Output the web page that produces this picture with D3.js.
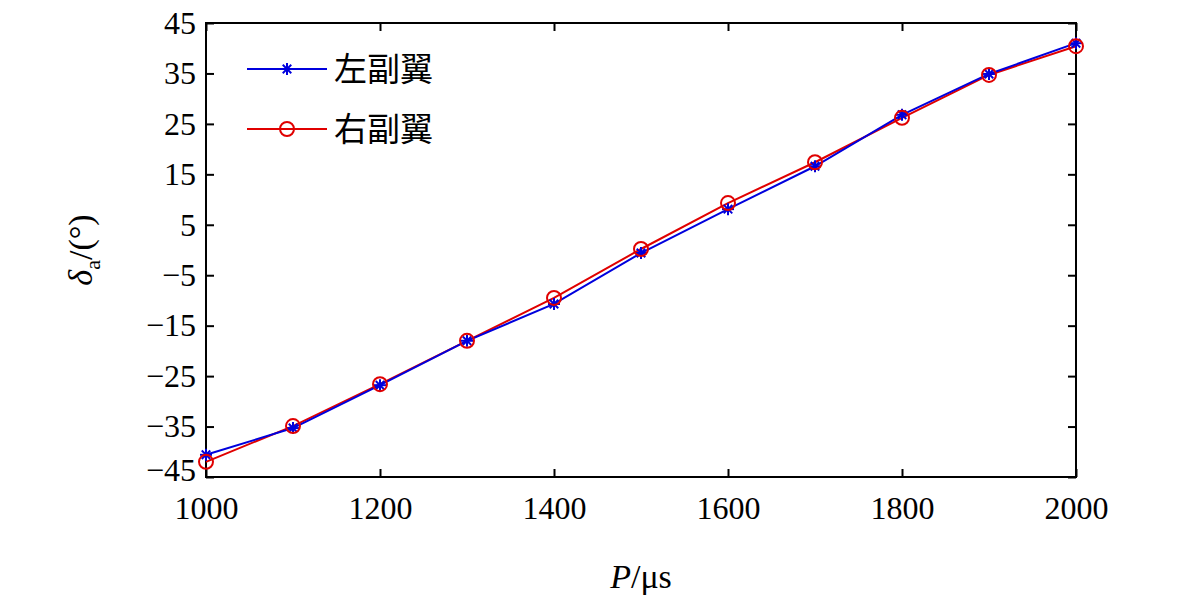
<!DOCTYPE html><html><head><meta charset="utf-8"><script src="https://cdn.jsdelivr.net/npm/d3@7"></script>
<style>body{margin:0;background:#fff}</style></head><body><svg id="c" width="1181" height="603"></svg>
<script>
const xs=[1000,1100,1200,1300,1400,1500,1600,1700,1800,1900,2000];
const left=[-40.6,-35.3,-26.8,-18,-10.7,-0.6,8.1,16.6,26.8,34.9,41.0];
const right=[-42,-34.9,-26.6,-18,-9.5,0.2,9.3,17.4,26.2,34.7,40.4];
const xTicks=[1000,1200,1400,1600,1800,2000];
const yTicks=[-45,-35,-25,-15,-5,5,15,25,35,45];
const SERIF="'Liberation Serif','DejaVu Serif',serif";
const svg=d3.select("#c");
const m={l:206,r:1076,t:23,b:477};
const x=d3.scaleLinear().domain([1000,2000]).range([m.l,m.r]);
const y=d3.scaleLinear().domain([-45,45]).range([m.b,m.t]);
svg.append("rect").attr("x",m.l).attr("y",m.t).attr("width",m.r-m.l).attr("height",m.b-m.t).attr("fill","none").attr("stroke","#000").attr("stroke-width",2);
const gx=svg.append("g").attr("transform",`translate(0,${m.b})`).call(d3.axisBottom(x).tickValues(xTicks).tickSize(-8).tickPadding(18).tickFormat(d3.format("d")));
const gx2=svg.append("g").attr("transform",`translate(0,${m.t})`).call(d3.axisTop(x).tickValues(xTicks).tickSize(-8).tickFormat(""));
const gy=svg.append("g").attr("transform",`translate(${m.l},0)`).call(d3.axisLeft(y).tickValues(yTicks).tickSize(-8).tickPadding(10).tickFormat(d=>d<0?"−"+(-d):d));
const gy2=svg.append("g").attr("transform",`translate(${m.r},0)`).call(d3.axisRight(y).tickValues(yTicks).tickSize(-8).tickFormat(""));
[gx,gx2,gy,gy2].forEach(g=>{g.attr("font-family",null);g.select(".domain").remove();g.selectAll("line").attr("stroke","#000").attr("stroke-width",2);g.selectAll("text").attr("font-size",32).attr("fill","#000").style("font-family",SERIF);});
gx.selectAll("text").attr("dy","0.75em");
gy.selectAll("text").filter(d=>d===-45).attr("dy","0.1em");
const line=d3.line().x((d,i)=>x(xs[i])).y(d=>y(d));
svg.append("path").datum(right).attr("d",line).attr("fill","none").attr("stroke","#e00000").attr("stroke-width",2);
svg.append("path").datum(left).attr("d",line).attr("fill","none").attr("stroke","#0000dd").attr("stroke-width",2);
function star(g,cx,cy){const r=6;for(let a=0;a<4;a++){const t=a*Math.PI/4;g.append("line").attr("x1",cx-r*Math.cos(t)).attr("y1",cy-r*Math.sin(t)).attr("x2",cx+r*Math.cos(t)).attr("y2",cy+r*Math.sin(t)).attr("stroke","#0000dd").attr("stroke-width",2);}}
const gs=svg.append("g");left.forEach((v,i)=>star(gs,x(xs[i]),y(v)));
svg.append("g").selectAll("circle").data(right).join("circle").attr("cx",(d,i)=>x(xs[i])).attr("cy",d=>y(d)).attr("r",7).attr("fill","none").attr("stroke","#e00000").attr("stroke-width",2);
svg.append("line").attr("x1",247).attr("x2",327).attr("y1",69).attr("y2",69).attr("stroke","#0000dd").attr("stroke-width",2);star(svg,287,69);
svg.append("line").attr("x1",247).attr("x2",327).attr("y1",129).attr("y2",129).attr("stroke","#e00000").attr("stroke-width",2);
svg.append("circle").attr("cx",287).attr("cy",129).attr("r",7).attr("fill","none").attr("stroke","#e00000").attr("stroke-width",2);
svg.append("text").attr("x",334).attr("y",81).attr("font-size",33).style("font-family","'Noto Sans CJK SC'").text("左副翼");
svg.append("text").attr("x",334).attr("y",141).attr("font-size",33).style("font-family","'Noto Sans CJK SC'").text("右副翼");
const xt=svg.append("text").attr("x",641).attr("y",588).attr("text-anchor","middle").attr("font-size",34).style("font-family",SERIF);
xt.append("tspan").attr("font-style","italic").text("P");xt.append("tspan").text("/μs");
const yt=svg.append("text").attr("transform","translate(92,250) rotate(-90)").attr("text-anchor","middle").attr("font-size",34).style("font-family",SERIF);
yt.append("tspan").attr("font-style","italic").text("δ");yt.append("tspan").attr("font-size",22).attr("dy",8).text("a");yt.append("tspan").attr("dy",-8).text("/(°)");
</script></body></html>
